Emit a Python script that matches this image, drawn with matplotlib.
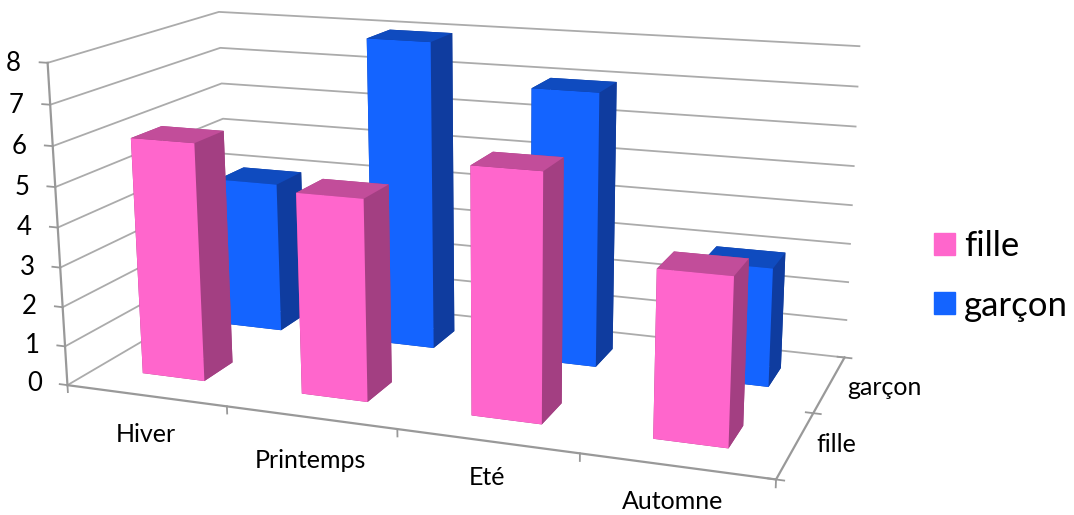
import matplotlib
matplotlib.use("Agg")
import matplotlib.pyplot as plt
from matplotlib.patches import Patch
from mpl_toolkits.mplot3d import proj3d

saisons = ["Hiver", "Printemps", "Eté", "Automne"]
series = ["fille", "garçon"]
fille = [6, 5, 6, 4]
garcon = [4, 8, 7, 3]
zticks = list(range(0, 9))

plt.rcParams['font.family'] = ['Lato', 'DejaVu Sans']

# face order of bar3d: bottom, top, front, back, left, right
rose = ["#A33F82", "#C24D9A", "#FF66CC", "#A33F82", "#A33F82", "#A33F82"]
bleu = ["#0F3C9F", "#0F4BBF", "#1464FF", "#0F3C9F", "#0F3C9F", "#0F3C9F"]
grille = "#ABABAB"
axe = "#999999"

fig = plt.figure(figsize=(10.74, 5.15), dpi=100)
ax = fig.add_subplot(projection="3d", computed_zorder=False)
ax.set_xlim(0, 4)
ax.set_ylim(0, 2.23)
ax.set_zlim(-0.195, 8)
ax.view_init(14.594, -69.364, 0.273)
ax.set_proj_type("persp", focal_length=0.413)
ax.set_box_aspect((4, 1.946 * 2.23 / 2, 1.826 * 8.195 / 8), zoom=1)
size = 847.219
ax.set_position([(457.883 - size / 2) / 1074, (288.297 - size / 2) / 515, size / 1074, size / 515])
ax.set_axis_off()


def label(x, y, z, s, fontsize):
    # text2D at the projected spot, so the label keeps a plain 2D position
    px, py, _ = proj3d.proj_transform(x, y, z, ax.get_proj())
    ax.text2D(px, py, s, transform=ax.transData, fontsize=fontsize,
              ha="center", va="center", color="black")


# back walls
for z in zticks:
    ax.plot([0, 0, 4], [0, 2, 2], [z, z, z], color=grille, lw=1.3, zorder=1)
    ax.plot([-0.05, 0], [0, 0], [z, z], color=axe, lw=1.3, zorder=1)

# floor edges and axis
ax.plot([0, 0], [0, 0], [0, 8], color=axe, lw=1.6, zorder=1)
ax.plot([0, 4, 4], [0, 0, 2], [0, 0, 0], color=axe, lw=1.6, zorder=1)
for x in range(5):
    ax.plot([x, x], [0, 0], [0, -0.18], color=axe, lw=1.3, zorder=1)
for y in range(3):
    ax.plot([3.96, 4.04], [y, y], [0, 0], color=axe, lw=1.3, zorder=1)

# bars, back row first
for rang, (y0, vals, cols) in enumerate([(1.335, garcon, bleu), (0.33, fille, rose)]):
    for i, v in enumerate(vals):
        ax.bar3d(i + 0.295, y0, 0, 0.395, 0.35, v, color=cols, shade=False, lw=0, zorder=5 + rang)

# labels
for z in zticks:
    label(-0.215, 0, z - 0.08, str(z), 18.5)
for i, (s, dx, dz) in enumerate(zip(saisons, [0.515, 0.515, 0.515, 0.5], [-0.91, -0.99, -0.8, -0.74])):
    label(i + dx, -0.05, dz, s, 18)
label(4.16, 0.79, -0.35, series[0], 18)
label(4.265, 1.79, -0.35, series[1], 18)

handles = [Patch(color="#FF66CC"), Patch(color="#1464FF")]
fig.legend(handles, series, loc="center left", bbox_to_anchor=(934 / 1074, 1 - 276 / 515),
           frameon=False, fontsize=25, handlelength=0.6, handleheight=0.6,
           handletextpad=0.26, labelspacing=0.79, borderpad=0, borderaxespad=0)

fig.savefig("out.png", dpi=100)
